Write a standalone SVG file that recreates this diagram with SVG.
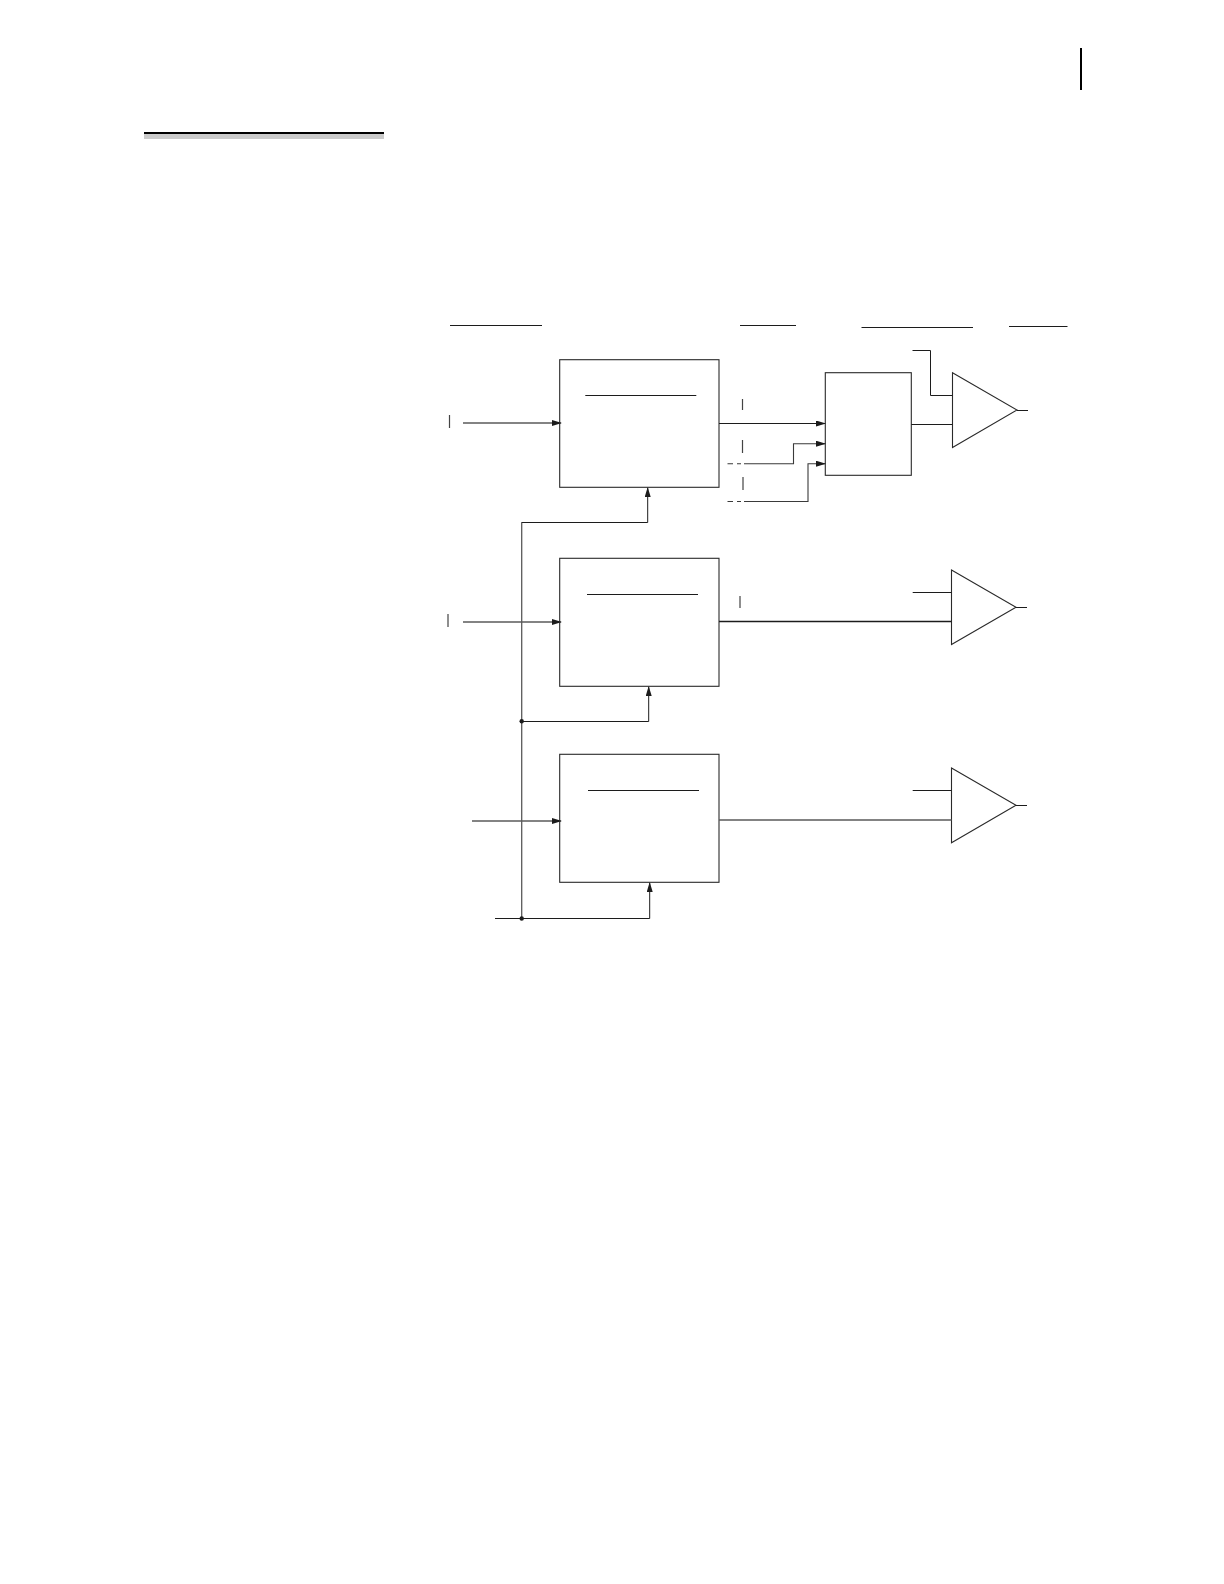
<svg xmlns="http://www.w3.org/2000/svg" width="1224" height="1584" viewBox="0 0 1224 1584">
<style>
.k{fill:none;stroke:#1c1c1c;stroke-width:1}
.g{fill:none;stroke:#5a5a5a;stroke-width:1.3}
.m{fill:none;stroke:#3a3a3a;stroke-width:1.1}
.b{fill:#fff;stroke:#2a2a2a;stroke-width:1.1}
.t{fill:none;stroke:#444;stroke-width:1.2}
</style>
<defs>
<marker id="ah" markerUnits="userSpaceOnUse" markerWidth="10" markerHeight="6" refX="9" refY="3" orient="auto"><path d="M0,0 L10,3 L0,6 Z" fill="#1c1c1c"/></marker>
</defs>
<rect width="1224" height="1584" fill="#fff"/>
<g id="page-rule">
<rect x="144" y="132" width="240" height="2" fill="#000"/>
<rect x="144" y="134" width="240" height="5" fill="#cbcbcb"/>
<rect x="1080" y="48" width="2" height="42" fill="#000"/>
</g>
<g id="headers">
<path class="k" d="M450,325.5H542"/>
<path class="k" d="M740,325.5H796"/>
<path class="k" d="M861.5,327.5H973"/>
<path class="k" d="M1009,326.5H1067.5"/>
</g>
<g id="box-1"><rect class="b" x="559.7" y="359.7" width="159.3" height="127.6"/><path class="k" d="M585.3,395.5H696.3"/></g>
<g id="box-2"><rect class="b" x="559.7" y="558.3" width="159.3" height="128"/><path class="k" d="M587,594.5H698"/></g>
<g id="box-3"><rect class="b" x="559.7" y="754.3" width="159.3" height="128"/><path class="k" d="M588,790.5H699"/></g>
<g id="combiner"><rect class="b" x="825.3" y="372.7" width="86" height="102.6"/></g>
<g id="amp-1"><path class="b" d="M952.5,372.7L1017,410L952.5,447.5Z"/></g>
<g id="amp-2"><path class="b" d="M951.5,570L1016,607.3L951.5,644.5Z"/></g>
<g id="amp-3"><path class="b" d="M951.5,768L1016,805.3L951.5,842.8Z"/></g>
<g id="connectors">
<path class="g" d="M463,423H561" marker-end="url(#ah)"/>
<path class="g" d="M463,622H561" marker-end="url(#ah)"/>
<path class="g" d="M472,821H561" marker-end="url(#ah)"/>
<path class="g" d="M521.7,522.3V918.5"/>
<path class="k" d="M521.7,522.5H647.7V488" marker-end="url(#ah)"/>
<path class="k" d="M521.7,721.5H648.7V687" marker-end="url(#ah)"/>
<path class="k" d="M495,918.5H649.7V883" marker-end="url(#ah)"/>
<circle cx="521.7" cy="721.3" r="2.2" fill="#1c1c1c"/>
<circle cx="521.7" cy="918.5" r="2.2" fill="#1c1c1c"/>
<path class="k" d="M719,423.5H825" marker-end="url(#ah)"/>
<path class="m" d="M744,463.7H793.5V443.7H825" marker-end="url(#ah)"/>
<path class="m" d="M744,501.5H808V463.7H825" marker-end="url(#ah)"/>
<path class="m" d="M727.5,463.7H733M737,463.7H741M727.5,501.5H733M737,501.5H741"/>
<path class="k" d="M911.3,424.5H952.5"/>
<path class="k" d="M912.5,350.5H930.5V395.5H952.5"/>
<path class="k" d="M1017,410.5H1028"/>
<path class="k" style="stroke-width:1.4" d="M719,621.5H951.5"/>
<path class="k" d="M912.7,592.5H951.5"/>
<path class="k" d="M1016,607.5H1027"/>
<path class="g" d="M719,820H951.5"/>
<path class="k" d="M912.7,790.5H951.5"/>
<path class="k" d="M1016,805.5H1027"/>
</g>
<g id="ticks">
<path class="t" d="M449.5,415V428M448,614V627M742.5,399V410M742.5,440V453M743,477V490M740,596V608"/>
</g>
</svg>
